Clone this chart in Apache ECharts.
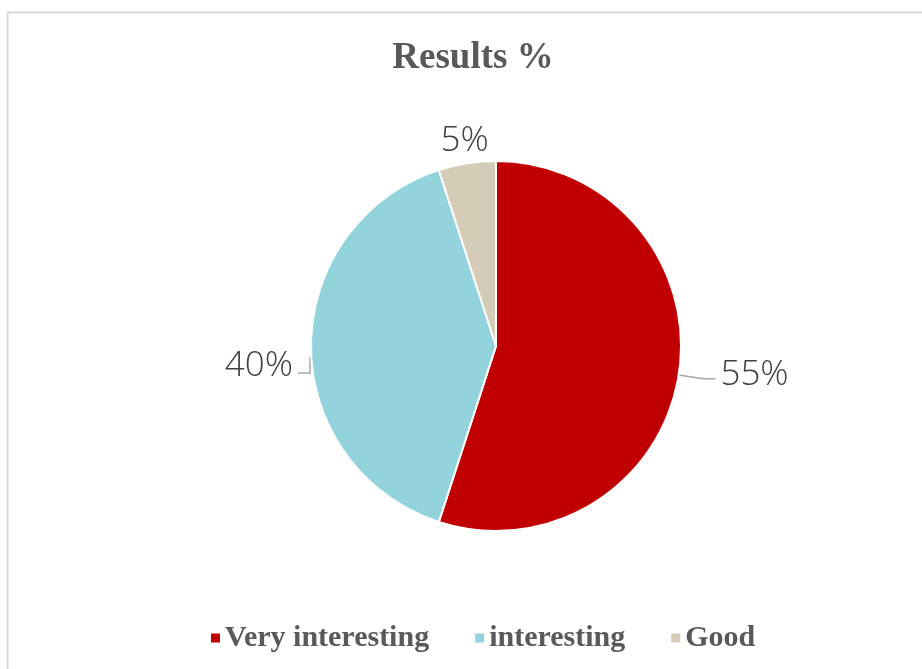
<!DOCTYPE html>
<html>
<head>
<meta charset="utf-8">
<script src="https://cdn.jsdelivr.net/npm/echarts@6/dist/echarts.min.js"></script>
<style>
html,body{margin:0;padding:0;background:#fff;}
#chart{width:922px;height:669px;}
</style>
</head>
<body>
<div id="chart"></div>
<script>
const categories = ['Very interesting', 'interesting', 'Good'];
const values = [55, 40, 5];
const colors = ['#C00000', '#93D4DC', '#D5CCB8'];
const titleText = 'Results %';

const chart = echarts.init(document.getElementById('chart'));

const labelShift = {
  0: {dx: 0, dy: -4},
  1: {dx: 0, dy: 20},
  2: {dx: 27, dy: -20}
};

chart.setOption({
  backgroundColor: '#ffffff',
  animation: false,
  title: {
    text: titleText,
    left: 468,
    textAlign: 'center',
    top: 35,
    textStyle: {fontFamily: 'Liberation Serif', fontWeight: 'bold', fontSize: 37, color: '#595959'}
  },
  graphic: [{
    type: 'rect',
    shape: {x: 7.5, y: 12.5, width: 1000, height: 1000},
    style: {fill: 'none', stroke: '#d9d9d9', lineWidth: 2},
    silent: true
  }],
  legend: {
    data: categories,
    bottom: 11,
    left: 204,
    icon: 'rect',
    itemWidth: 11,
    itemHeight: 11,
    itemGap: 44,
    textStyle: {fontFamily: 'Liberation Serif', fontWeight: 'bold', fontSize: 30, color: '#595959', padding: [0, 0, 0, -1]}
  },
  series: [{
    type: 'pie',
    center: [496, 346],
    radius: 185,
    startAngle: 90,
    clockwise: true,
    data: categories.map((c, i) => ({
      name: c,
      value: values[i],
      itemStyle: {color: colors[i]},
      labelLine: i === 2 ? {show: false, length: 2, length2: 0} : (i === 1 ? {length: 1, length2: 12} : {length: 25, length2: 12})
    })),
    itemStyle: {borderColor: '#ffffff', borderWidth: 2},
    label: {
      show: true,
      position: 'outside',
      formatter: p => p.value + '%',
      fontFamily: 'Open Sans',
      fontWeight: 300,
      fontSize: 35,
      color: '#404040'
    },
    labelLine: {
      show: true,
      lineStyle: {color: '#a6a6a6', width: 1.5}
    },
    labelLayout: function (params) {
      const s = labelShift[params.dataIndex] || {dx: 0, dy: 0};
      const out = {dx: s.dx, dy: s.dy};
      if (params.dataIndex === 1 && params.labelLinePoints) {
        const p = params.labelLinePoints;
        const x0 = p[0][0] - 1;
        const y0 = p[0][1];
        out.labelLinePoints = [[x0, y0 + 11], [x0, y0 + 27], [x0 - 12, y0 + 27]];
      }
      return out;
    }
  }]
});
</script>
</body>
</html>
